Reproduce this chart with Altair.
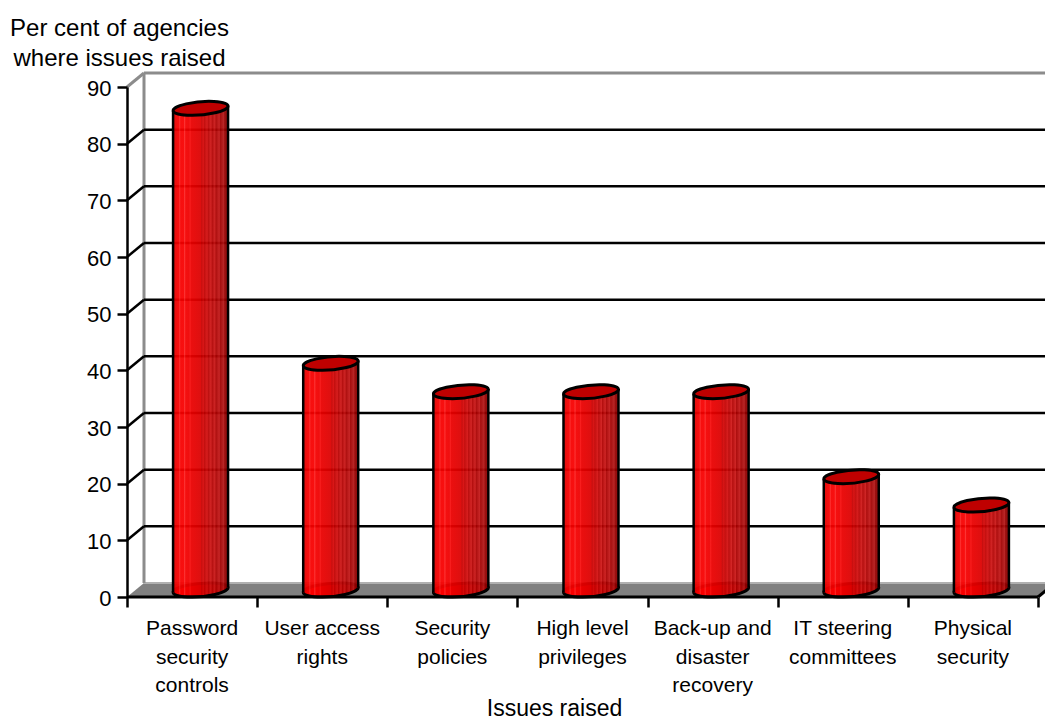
import altair as alt
import pandas as pd

# Survey results: share of agencies where each issue was raised
categories = [
    "Password\nsecurity\ncontrols",
    "User access\nrights",
    "Security\npolicies",
    "High level\nprivileges",
    "Back-up and\ndisaster\nrecovery",
    "IT steering\ncommittees",
    "Physical\nsecurity",
]
values = [85, 40, 35, 35, 35, 20, 15]
y_ticks = [0, 10, 20, 30, 40, 50, 60, 70, 80, 90]
grid_values = [10, 20, 30, 40, 50, 60, 70, 80]

# Pixel sizes of the plot and of the oblique projection used for the 3-D look
PLOT_W, PLOT_H = 918, 510
BAND_PX = 130.14
UNIT_PX = PLOT_H / 90
DEPTH_X, DEPTH_Y = 17, 14


def ux(px):
    return px / BAND_PX


def uy(px):
    return px / UNIT_PX


x_max = ux(PLOT_W)
x_scale = alt.Scale(domain=[0, x_max], range=[0, PLOT_W], nice=False, zero=False)
y_scale = alt.Scale(domain=[0, 90], range=[PLOT_H, 0], nice=False, zero=False)

x_axis = alt.Axis(
    values=list(range(8)), labels=False, domain=False, grid=False,
    ticks=True, tickSize=10, tickWidth=2.5, tickColor="black", zindex=1,
    title="Issues raised", titleFont="Liberation Sans", titleFontSize=23,
    titleFontWeight="normal", titleColor="black",
    titleX=427, titleY=111, titleBaseline="middle", titleAlign="center",
)
y_axis = alt.Axis(
    values=y_ticks, grid=False, domainColor="black", domainWidth=2.5, zindex=1,
    tickColor="black", tickSize=10, tickWidth=2.5, labelPadding=6, labelOffset=1,
    labelFont="Liberation Sans", labelFontSize=22, labelColor="black",
    title=["Per cent of agencies", "where issues raised"],
    titleFont="Liberation Sans", titleFontSize=24, titleFontWeight="normal",
    titleColor="black", titleAngle=0, titleAlign="center", titleBaseline="middle",
    titleLineHeight=30, titleX=-8, titleY=-59,
)
X = alt.X("x:Q", scale=x_scale, axis=x_axis)
Y = alt.Y("y:Q", scale=y_scale, axis=y_axis)

# Floor parallelogram running off to the right of the front axis
floor = alt.Chart(pd.DataFrame({
    "x": [0, ux(DEPTH_X), 7, 7 + ux(DEPTH_X)],
    "y": [0, uy(DEPTH_Y), uy(DEPTH_Y), uy(DEPTH_Y)],
    "y2": [0, 0, 0, uy(DEPTH_Y)],
})).mark_area(color="#808080").encode(X, Y, y2="y2:Q")


def rules(rows):
    return pd.DataFrame(rows, columns=["x", "x2", "y", "y2"])


back_x = ux(DEPTH_X)
back_y = uy(DEPTH_Y)

wall_rules = rules([
    (back_x, back_x, back_y, 90 + back_y),
    (back_x, x_max, 90 + back_y, 90 + back_y),
    (0, back_x, 90, 90 + back_y),
])
walls = alt.Chart(wall_rules).mark_rule(color="#8c8c8c", strokeWidth=3).encode(
    X, Y, x2="x2:Q", y2="y2:Q"
)
floor_back = alt.Chart(rules([(back_x, x_max, back_y, back_y)])).mark_rule(
    color="#b0b0b0", strokeWidth=2
).encode(X, Y, x2="x2:Q", y2="y2:Q")

grid_rows = [(back_x, x_max, v + back_y, v + back_y) for v in grid_values]
grid_rows += [(0, back_x, v, v + back_y) for v in grid_values]
grid = alt.Chart(rules(grid_rows)).mark_rule(color="black", strokeWidth=2.5).encode(
    X, Y, x2="x2:Q", y2="y2:Q"
)

# Cylinders: the body sits half way into the depth of the box
HALF_W = ux(27.5)
TILT = uy(2.4)
MID_X = ux(DEPTH_X / 2)
MID_Y = uy(7)

centers = [i + 0.5 + MID_X for i in range(len(values))]
body_rows = []
edge_rows = []
for i, (c, v) in enumerate(zip(centers, values)):
    body_rows.append({"bar": i, "x": c - HALF_W, "y": v + MID_Y - TILT, "y2": MID_Y - TILT})
    body_rows.append({"bar": i, "x": c + HALF_W, "y": v + MID_Y + TILT, "y2": MID_Y + TILT})
    edge_rows.append((c - HALF_W, c - HALF_W, MID_Y - TILT, v + MID_Y - TILT))
    edge_rows.append((c + HALF_W, c + HALF_W, MID_Y + TILT, v + MID_Y + TILT))

STOPS = [
    (0.00, "#d80000"), (0.06, "#ee0000"), (0.10, "#f60000"), (0.12, "#fc2020"), (0.14, "#f60000"),
    (0.19, "#f80000"), (0.21, "#fc2828"), (0.23, "#f40000"), (0.29, "#ee0000"),
    (0.31, "#f81010"), (0.33, "#ea0000"), (0.50, "#dc0000"), (0.52, "#c40000"),
    (0.55, "#d80808"), (0.57, "#c00000"), (0.62, "#d41010"), (0.64, "#b80000"),
    (0.69, "#d01818"), (0.71, "#b00000"), (0.76, "#cc1818"), (0.78, "#a80000"),
    (0.84, "#c41818"), (0.86, "#a00000"), (0.92, "#b41818"), (0.94, "#940000"),
    (1.00, "#880000"),
]
body_fill = alt.Gradient(
    gradient="linear", x1=0, x2=1, y1=0, y2=0,
    stops=[alt.GradientStop(offset=o, color=c) for o, c in STOPS],
)

# Tilted ellipse in the symbol's unit box
ELLIPSE = "M-0.996,0.087A1,0.235,-5,1,1,0.996,-0.087A1,0.235,-5,1,1,-0.996,0.087Z"
ELLIPSE_SIZE = 55 * 55

base_ellipse = alt.Chart(pd.DataFrame({"x": centers, "y": [MID_Y] * len(values)})).mark_point(
    shape=ELLIPSE, size=ELLIPSE_SIZE, filled=True, fill=body_fill, stroke="black",
    strokeWidth=3, opacity=1,
).encode(X, Y)
body = alt.Chart(pd.DataFrame(body_rows)).mark_area(
    fill=body_fill, opacity=0.94,
).encode(X, Y, y2="y2:Q", detail="bar:N")
edges = alt.Chart(rules(edge_rows)).mark_rule(color="black", strokeWidth=2.5).encode(
    X, Y, x2="x2:Q", y2="y2:Q"
)
top_ellipse = alt.Chart(pd.DataFrame({
    "x": centers, "y": [v + MID_Y for v in values],
})).mark_point(
    shape=ELLIPSE, size=ELLIPSE_SIZE, filled=True, fill="#bf0000", stroke="black",
    strokeWidth=3, opacity=1,
).encode(X, Y)

# Front edge of the floor and its right-hand corner
front = alt.Chart(rules([(0, 7, 0, 0), (7, 7 + back_x, 0, back_y)])).mark_rule(
    color="black", strokeWidth=3
).encode(X, Y, x2="x2:Q", y2="y2:Q")

cat_labels = alt.Chart(pd.DataFrame({
    "x": [i + 0.5 for i in range(len(categories))],
    "y": [0] * len(categories),
    "label": categories,
})).mark_text(
    font="Liberation Sans", fontSize=21, color="black", align="center",
    baseline="top", lineBreak="\n", lineHeight=28.5, dy=21,
).encode(X, Y, text="label:N")

chart = alt.layer(
    floor, floor_back, walls, grid, base_ellipse, body, edges, top_ellipse,
    front, cat_labels,
).properties(
    width=PLOT_W,
    height=PLOT_H,
    background="white",
    padding={"left": 127, "top": 87, "right": 0, "bottom": 123},
    autosize=alt.AutoSizeParams(type="none"),
).configure_view(stroke=None)

chart.save("out.html", embed_options={"renderer": "svg", "actions": False})
